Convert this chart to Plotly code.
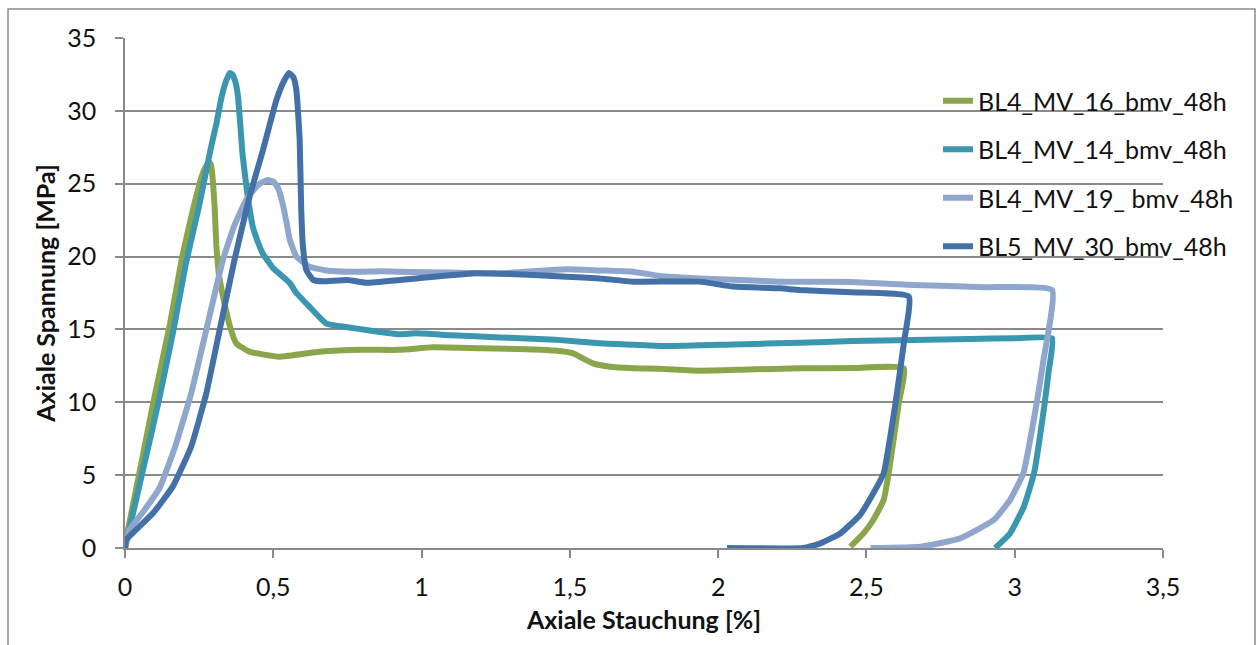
import plotly.graph_objects as go

# Axial compression [%] vs. axial stress [MPa] for four specimens (48 h)
series_names = [
    "BL4_MV_16_bmv_48h",
    "BL4_MV_14_bmv_48h",
    "BL4_MV_19_ bmv_48h",
    "BL5_MV_30_bmv_48h",
]
series_colors = ["#8AA64B", "#3B97AF", "#8FA7CD", "#4470A8"]

strain_16 = [0, 0.0056, 0.05, 0.095, 0.152, 0.191, 0.23, 0.262, 0.276, 0.283, 0.29, 0.295,
             0.302, 0.308, 0.318, 0.33, 0.354, 0.375, 0.42, 0.52, 0.656, 0.8,
             0.926, 1.038, 1.2, 1.376, 1.45, 1.511, 1.545, 1.578, 1.63, 1.713, 1.8, 1.938,
             2.1, 2.275, 2.45, 2.626, 2.609, 2.575, 2.558, 2.523, 2.49, 2.446]
stress_16 = [0, 0.78, 5.3, 9.93, 15.4, 19.8, 23.3, 25.7, 26.3, 26.5, 26.3, 25.5,
             23.5, 20.8, 18.6, 17.3, 15.2, 14.05, 13.47, 13.13, 13.47, 13.6,
             13.6, 13.77, 13.7, 13.63, 13.55, 13.36, 13.0, 12.67, 12.45, 12.33, 12.3, 12.17,
             12.25, 12.33, 12.35, 12.33, 9.93, 5.12, 3.29, 1.92, 1.0, 0.09]

strain_14 = [0, 0.009, 0.06, 0.112, 0.163, 0.205, 0.25, 0.29, 0.308, 0.325, 0.34,
             0.353, 0.362, 0.372, 0.381, 0.397, 0.414, 0.431, 0.45, 0.465, 0.5, 0.555,
             0.578, 0.62, 0.679, 0.75, 0.814, 0.926, 0.982, 1.1, 1.263, 1.45, 1.6, 1.826,
             2.05, 2.275, 2.45, 2.658, 2.85, 3.0, 3.126, 3.115, 3.101, 3.065, 3.031, 2.984,
             2.934]
stress_14 = [0, 0.78, 5.3, 9.93, 14.9, 19.5, 23.5, 27.5, 29.1, 30.9, 32.0,
             32.6, 32.5, 32.0, 31.0, 26.9, 24.1, 22.05, 20.9, 20.2, 19.2, 18.2,
             17.5, 16.6, 15.4, 15.15, 14.96, 14.67, 14.73, 14.6, 14.45, 14.3, 14.05, 13.86,
             13.97, 14.09, 14.2, 14.27, 14.35, 14.4, 14.39, 12.2, 9.93, 5.12, 2.84, 1.0,
             0]

strain_19 = [0, 0.015, 0.06, 0.116, 0.169, 0.223, 0.274, 0.33, 0.37, 0.409, 0.435, 0.454,
             0.482, 0.5, 0.516, 0.532, 0.545, 0.555, 0.578, 0.622, 0.68, 0.757, 0.869,
             0.926, 1.1, 1.263, 1.489, 1.6, 1.713, 1.803, 1.938, 2.208, 2.275, 2.45, 2.658,
             2.9, 3.126, 3.097, 3.074, 3.029, 2.984, 2.929, 2.816, 2.682, 2.514]
stress_19 = [0, 1.24, 2.45, 4.1, 6.95, 10.6, 14.96, 19.76, 22.2, 23.9, 24.6, 25.0,
             25.26, 25.15, 24.7, 23.6, 22.3, 21.2, 20.0, 19.3, 19.05, 18.96, 19.0,
             18.96, 18.9, 18.85, 19.13, 19.05, 18.96, 18.67, 18.5, 18.28, 18.28, 18.25, 18.05,
             17.9, 17.7, 12.9, 9.93, 5.12, 3.29, 1.92, 0.66, 0.09, 0]

strain_30 = [0, 0.004, 0.094, 0.161, 0.223, 0.274, 0.319, 0.369, 0.42, 0.465, 0.51,
             0.535, 0.553, 0.568, 0.578, 0.589, 0.594, 0.6, 0.611, 0.634, 0.667, 0.75,
             0.814, 0.926, 0.982, 1.185, 1.3, 1.489, 1.6, 1.713, 1.938, 2.05, 2.208, 2.275,
             2.45, 2.643, 2.626, 2.598, 2.558, 2.523, 2.478, 2.412, 2.345, 2.287,
             2.03]
stress_30 = [0, 0.55, 2.38, 4.21, 6.95, 10.6, 14.96, 19.76, 24.1, 27.3, 30.7,
             32.0, 32.6, 32.3, 31.4, 28.0, 23.4, 20.7, 19.1, 18.4, 18.3, 18.4,
             18.2, 18.4, 18.5, 18.85, 18.8, 18.62, 18.5, 18.28, 18.28, 17.94, 17.82, 17.7,
             17.55, 17.25, 14.05, 9.93, 5.12, 3.75, 2.26, 1.0, 0.32, 0,
             0]

x_ticks = [0, 0.5, 1, 1.5, 2, 2.5, 3, 3.5]
y_ticks = [0, 5, 10, 15, 20, 25, 30, 35]

strains = [strain_16, strain_14, strain_19, strain_30]
stresses = [stress_16, stress_14, stress_19, stress_30]

FONT = "Lato, 'Open Sans', sans-serif"
FS = 25
GRID = "#8A8A8A"
TXT = "#111111"

fig = go.Figure()
for i, (name, color, xs, ys) in enumerate(zip(series_names, series_colors, strains, stresses)):
    fig.add_trace(go.Scatter(
        x=xs, y=ys, mode="lines", name=name,
        legendgroup=f"g{i}",
        line=dict(color=color, width=6, shape="spline", smoothing=0.4),
    ))

# outer chart frame
fig.add_shape(type="rect", xref="paper", yref="paper",
              x0=(8 - 125) / 1038, x1=(1255 - 125) / 1038,
              y0=-0.4, y1=(548 - 9) / 510,
              line=dict(color="#8C8C8C", width=1.5), fillcolor="rgba(0,0,0,0)",
              layer="below")

fig.update_layout(
    width=1260, height=645,
    margin=dict(l=125, r=97, t=38, b=97),
    paper_bgcolor="white", plot_bgcolor="white",
    separators=", ",
    font=dict(family=FONT, size=FS, color=TXT),
    showlegend=True,
    legend=dict(
        x=(938 - 125) / 1038, xanchor="left",
        y=(548 - 78) / 510, yanchor="top",
        bgcolor="rgba(0,0,0,0)",
        font=dict(family=FONT, size=FS, color=TXT),
        tracegroupgap=13,
        itemwidth=30,
    ),
    xaxis=dict(
        range=[0, 3.5], tickvals=x_ticks,
        showgrid=False, zeroline=False,
        showline=True, linecolor=GRID, linewidth=1.5,
        ticks="outside", ticklen=8, tickcolor=GRID, tickwidth=1.5,
        ticklabelstandoff=8,
        title=dict(text="<b>Axiale Stauchung [%]</b>", standoff=12,
                   font=dict(family=FONT, size=FS, color=TXT)),
    ),
    yaxis=dict(
        range=[0, 35], tickvals=y_ticks,
        showgrid=True, gridcolor=GRID, gridwidth=1.5,
        zeroline=False,
        showline=True, linecolor=GRID, linewidth=1.5,
        ticks="outside", ticklen=8, tickcolor=GRID, tickwidth=1.5,
        ticklabelstandoff=14,
        title=dict(text="<b>Axiale Spannung [MPa]</b>", standoff=4,
                   font=dict(family=FONT, size=FS, color=TXT)),
    ),
)

fig.write_html("out.html")
